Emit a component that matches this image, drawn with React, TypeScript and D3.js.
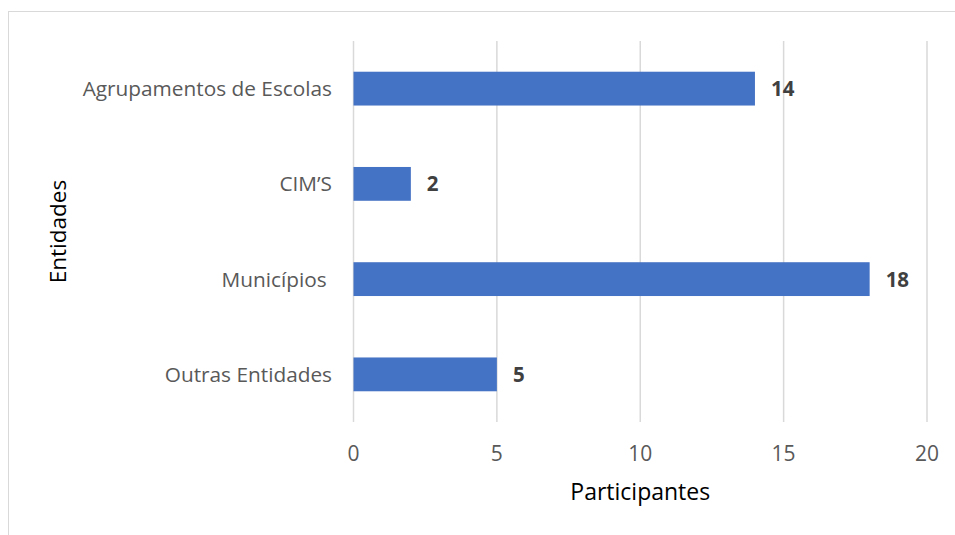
import React, { useEffect, useRef } from 'react';
import * as d3 from 'd3';

// chart data
const categories = ['Agrupamentos de Escolas', 'CIM’S', 'Municípios ', 'Outras Entidades'];
const participantes = [14, 2, 18, 5];
const xTicks = [0, 5, 10, 15, 20];

const App = () => {
    const svgRef = useRef<SVGSVGElement>(null);
    const width = 955;
    const height = 535;
    const margin = { top: 41, right: 28, bottom: 113, left: 354 };

    useEffect(() => {
        const svg = d3.select(svgRef.current);
        svg.selectAll('*').remove();
        const font = 'Open Sans, sans-serif';

        const x = d3.scaleLinear()
            .domain([0, 20])
            .range([margin.left - 0.5, width - margin.right]);

        const y = d3.scaleBand()
            .domain(categories)
            .range([margin.top, height - margin.bottom])
            .paddingInner(0.645)
            .paddingOuter(0.3225);

        // outer chart border
        svg.append('rect')
            .attr('x', 8.5)
            .attr('y', 11.5)
            .attr('width', 960)
            .attr('height', 540)
            .attr('fill', 'white')
            .attr('stroke', '#d9d9d9')
            .attr('stroke-width', 1);

        // vertical gridlines
        svg.append('g')
            .selectAll('line')
            .data(xTicks)
            .join('line')
            .attr('x1', d => x(d))
            .attr('x2', d => x(d))
            .attr('y1', margin.top)
            .attr('y2', height - margin.bottom)
            .attr('stroke', '#d9d9d9')
            .attr('stroke-width', 1.5);

        // bars
        svg.append('g')
            .attr('fill', '#4472c4')
            .selectAll('rect')
            .data(categories)
            .join('rect')
            .attr('x', x(0))
            .attr('y', d => y(d))
            .attr('width', (d, i) => x(participantes[i]) - x(0))
            .attr('height', y.bandwidth());

        // value labels
        svg.append('g')
            .selectAll('text')
            .data(categories)
            .join('text')
            .attr('x', (d, i) => x(participantes[i]) + 16)
            .attr('y', d => y(d) + y.bandwidth() / 2)
            .attr('dy', '0.36em')
            .attr('fill', '#404040')
            .attr('font-family', font)
            .attr('font-weight', 'bold')
            .attr('font-size', 20.5)
            .text((d, i) => participantes[i]);

        // category labels
        svg.append('g')
            .selectAll('text')
            .data(categories)
            .join('text')
            .attr('x', margin.left - 22)
            .attr('y', d => y(d) + y.bandwidth() / 2)
            .attr('dy', '0.36em')
            .attr('text-anchor', 'end')
            .attr('fill', '#595959')
            .attr('font-family', font)
            .attr('font-size', 20.8)
            .style('white-space', 'pre')
            .text(d => d);

        // x tick labels
        svg.append('g')
            .selectAll('text')
            .data(xTicks)
            .join('text')
            .attr('x', d => x(d))
            .attr('y', 453)
            .attr('dy', '0.36em')
            .attr('text-anchor', 'middle')
            .attr('fill', '#595959')
            .attr('font-family', font)
            .attr('font-size', 21)
            .text(d => d);

        // axis titles
        svg.append('text')
            .attr('x', (x(0) + x(20)) / 2)
            .attr('y', 492)
            .attr('dy', '0.36em')
            .attr('text-anchor', 'middle')
            .attr('fill', '#000')
            .attr('font-family', font)
            .attr('font-size', 23)
            .text('Participantes');

        svg.append('text')
            .attr('transform', `translate(58, ${(margin.top + height - margin.bottom) / 2}) rotate(-90)`)
            .attr('dy', '0.36em')
            .attr('text-anchor', 'middle')
            .attr('fill', '#000')
            .attr('font-family', font)
            .attr('font-size', 22.5)
            .text('Entidades');
    }, []);

    return (
        <svg ref={svgRef} width={width} height={height}
            style={{ position: 'absolute', left: 0, top: 0, display: 'block' }}></svg>
    );
};

export default App;
